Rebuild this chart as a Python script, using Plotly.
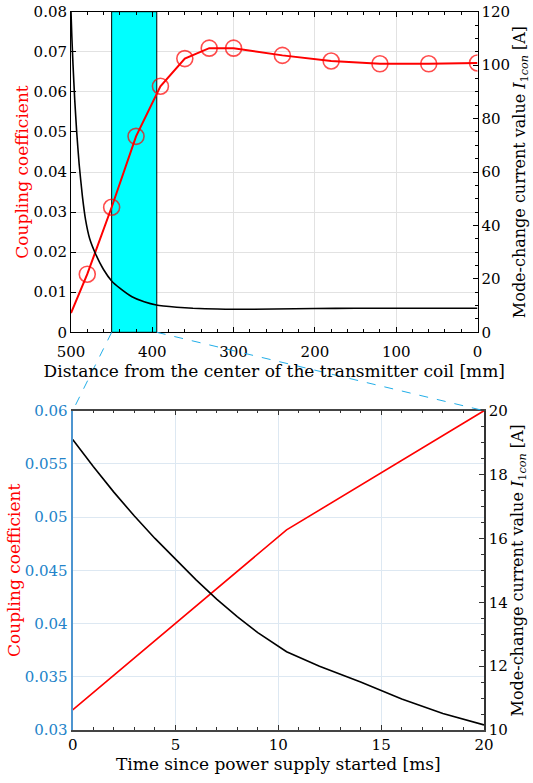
import plotly.graph_objects as go

W, H = 533, 783
TICKFONT = "DejaVu Serif"
TITLEFONT = "DejaVu Serif"

# ---------------- data ----------------
# top panel: distance [mm] vs coupling coefficient (markers) and current (line)
dist_k = [500, 480, 450, 420, 390, 360, 330, 300, 240, 180, 120, 60, 0]
k_val = [0.0048, 0.0145, 0.0312, 0.0489, 0.0614, 0.0683, 0.0709, 0.0709,
         0.0691, 0.0677, 0.0670, 0.0670, 0.0672]
k_marker_on = [False] + [True] * 12

dist_i = [500, 499, 497.5, 495.4, 493, 490, 486, 482, 477, 470, 460, 450,
          440, 425, 410, 395, 370, 350, 320, 300, 250, 200, 150, 0]
i_val = [120, 111, 100, 87, 75, 63, 51, 42, 35, 29.5, 23.5, 19.2,
         16.5, 13.3, 11.4, 10.2, 9.4, 9.0, 8.7, 8.6, 8.7, 8.9, 9.0, 9.0]

zoom_range = [450, 394.5]  # shaded region [mm]

# bottom panel: time [ms]
t_k = [0, 10.4, 20]
k_t = [0.0319, 0.0488, 0.0600]
t_i = [0, 1, 2, 3, 4, 5, 6, 7, 8, 9, 10.4, 12, 14, 16, 18, 20]
i_t = [19.1, 18.25, 17.45, 16.7, 16.0, 15.35, 14.7, 14.1, 13.55, 13.05,
       12.45, 12.0, 11.5, 10.97, 10.52, 10.16]

top_x_ticks = [500, 400, 300, 200, 100, 0]
top_yl_ticks = [0, 0.01, 0.02, 0.03, 0.04, 0.05, 0.06, 0.07, 0.08]
top_yl_text = ["0", "0.01", "0.02", "0.03", "0.04", "0.05", "0.06", "0.07", "0.08"]
top_yr_ticks = [0, 20, 40, 60, 80, 100, 120]
bot_x_ticks = [0, 5, 10, 15, 20]
bot_yl_ticks = [0.03, 0.035, 0.04, 0.045, 0.05, 0.055, 0.06]
bot_yl_text = ["0.03", "0.035", "0.04", "0.045", "0.05", "0.055", "0.06"]
bot_yr_ticks = [10, 12, 14, 16, 18, 20]

# ---------------- layout geometry ----------------
def px_x(p):
    return p / W

def px_y(p):
    return 1 - p / H

top_xd = [px_x(71), px_x(477.5)]
top_yd = [px_y(332.3), px_y(11.7)]
bot_xd = [px_x(72.7), px_x(484)]
bot_yd = [px_y(730), px_y(410.7)]

RED = "#ff0000"
BLUE = "#2383c9"
GRID = "#e2e2e2"
GRID_B = "#dde8f2"

fig = go.Figure()

fig.add_trace(go.Scatter(
    x=dist_i, y=i_val, mode="lines", line=dict(color="black", width=1.6, shape="spline", smoothing=0.4),
    xaxis="x", yaxis="y2", showlegend=False))
fig.add_trace(go.Scatter(
    x=dist_k, y=k_val, mode="lines+markers",
    line=dict(color=RED, width=2),
    marker=dict(symbol="circle-open", size=[16 if m else 0 for m in k_marker_on],
                color=RED, line=dict(width=1.6, color=RED)),
    xaxis="x", yaxis="y", showlegend=False))

fig.add_trace(go.Scatter(
    x=t_i, y=i_t, mode="lines", line=dict(color="black", width=1.6),
    xaxis="x2", yaxis="y4", showlegend=False))
fig.add_trace(go.Scatter(
    x=t_k, y=k_t, mode="lines", line=dict(color=RED, width=1.6),
    xaxis="x2", yaxis="y3", showlegend=False))

tickfont = dict(family=TICKFONT, size=15, color="black")
titlefont = dict(family=TITLEFONT, size=17, color="black")
rtitlefont = dict(family=TITLEFONT, size=16, color="black")
redtitle = dict(family=TITLEFONT, size=17, color=RED)

common_x = dict(showline=True, linecolor="black", linewidth=1, ticks="inside",
                ticklen=5, tickcolor="black", mirror="ticks", zeroline=False,
                tickfont=tickfont, automargin=False)

RTITLE = "Mode-change current value <i>I</i><sub>1<i>con</i></sub> [A]"

fig.update_layout(
    width=W, height=H, margin=dict(l=0, r=0, t=0, b=0),
    paper_bgcolor="white", plot_bgcolor="white",
    font=dict(family=TICKFONT),
    xaxis=dict(**common_x, domain=top_xd, anchor="y", range=[500, 0],
               tickvals=top_x_ticks, showgrid=True, gridcolor=GRID, gridwidth=1,
               ticklabelstandoff=6,
               minor=dict(dtick=20, ticks="inside", ticklen=3, tickcolor="black", showgrid=False),
               title=dict(text="Distance from the center of the transmitter coil [mm]",
                          font=titlefont, standoff=0)),
    yaxis=dict(domain=top_yd, anchor="x", range=[0, 0.08], tickvals=top_yl_ticks,
               ticktext=top_yl_text, showline=True, linecolor="black", ticks="inside",
               ticklen=5, tickcolor="black", showgrid=True, gridcolor=GRID, zeroline=False,
               tickfont=tickfont, automargin=False,
               title=dict(text="Coupling coefficient", font=redtitle, standoff=0)),
    yaxis2=dict(overlaying="y", anchor="x", side="right", range=[0, 120], tickvals=top_yr_ticks,
                showline=True, linecolor="black", ticks="inside", ticklen=5, tickcolor="black",
                minor=dict(dtick=5, ticks="inside", ticklen=3, tickcolor="black"),
                showgrid=False, zeroline=False, tickfont=tickfont, automargin=False,
                title=dict(text=RTITLE, font=rtitlefont, standoff=2)),
    xaxis2=dict(showline=True, linecolor="#444444", linewidth=1.5, ticks="inside",
                ticklen=5, tickcolor="#333333", mirror="ticks", zeroline=False,
                tickfont=tickfont, automargin=False,
                domain=bot_xd, anchor="y3", range=[0, 20], tickvals=bot_x_ticks,
                showgrid=True, gridcolor=GRID_B,
                minor=dict(dtick=1, ticks="inside", ticklen=3, tickcolor="#333333", showgrid=False),
                title=dict(text="Time since power supply started [ms]", font=titlefont, standoff=3)),
    yaxis3=dict(domain=bot_yd, anchor="x2", range=[0.03, 0.06], tickvals=bot_yl_ticks,
                ticktext=bot_yl_text, showline=True, linecolor="#4d95d0", linewidth=2.2,
                ticks="", showgrid=True, gridcolor=GRID_B, zeroline=False,
                tickfont=dict(family=TICKFONT, size=15, color=BLUE), automargin=False,
                title=dict(text="Coupling coefficient", font=redtitle, standoff=0)),
    yaxis4=dict(overlaying="y3", anchor="x2", side="right", range=[10, 20], tickvals=bot_yr_ticks,
                showline=True, linecolor="#333333", linewidth=1.5, ticks="inside", ticklen=5,
                tickcolor="#333333",
                minor=dict(dtick=0.5, ticks="inside", ticklen=3, tickcolor="#333333"),
                showgrid=False, zeroline=False, tickfont=tickfont, automargin=False,
                title=dict(text=RTITLE, font=rtitlefont, standoff=2)),
)

# shaded region
fig.add_shape(type="rect", xref="x", yref="y", x0=zoom_range[0], x1=zoom_range[1],
              y0=0, y1=0.08, fillcolor="#00ffff", line=dict(color="black", width=1),
              layer="between")

# connector lines (paper coords derived from axis mapping)
def top_paper_x(v):
    return top_xd[0] + (500 - v) / 500 * (top_xd[1] - top_xd[0])

for xv, xb in [(zoom_range[0], bot_xd[0]), (zoom_range[1], bot_xd[1])]:
    fig.add_shape(type="line", xref="paper", yref="paper",
                  x0=top_paper_x(xv), y0=top_yd[0], x1=xb, y1=bot_yd[1],
                  line=dict(color="#22aee8", width=1, dash="dash"), layer="above")

fig.write_html("out.html", config={"displayModeBar": False},
               post_script="document.body.style.margin='0px';")
